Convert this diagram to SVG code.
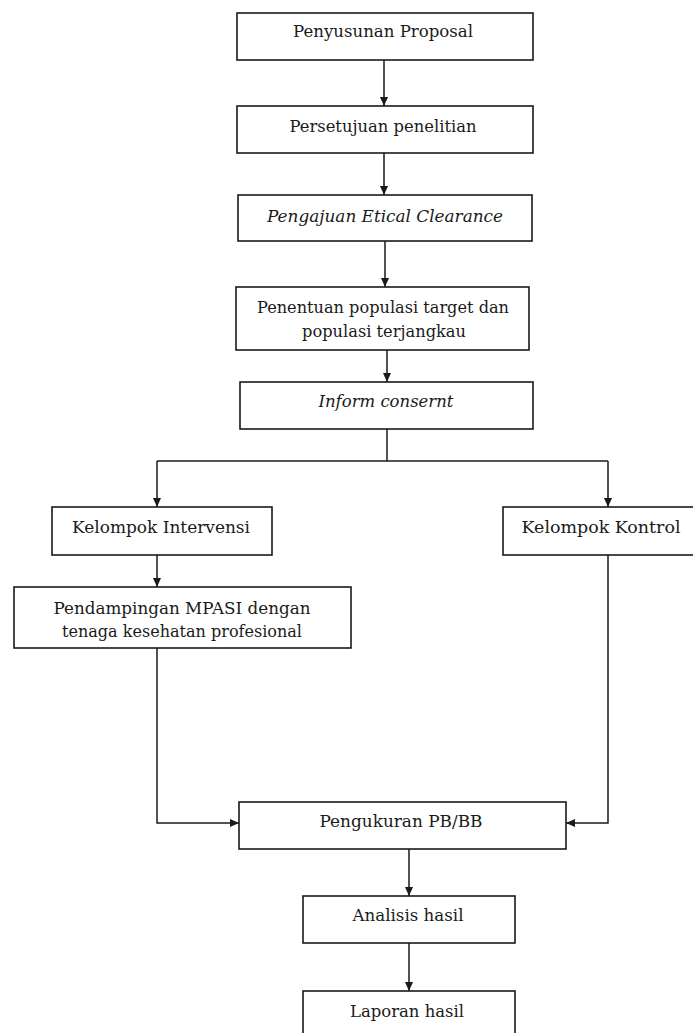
<svg xmlns="http://www.w3.org/2000/svg" width="693" height="1033" viewBox="0 0 693 1033">
<style>
.box{fill:#fff;stroke:#1a1a1a;stroke-width:1.6}
.t{font-family:"DejaVu Serif","Liberation Serif",serif;font-size:16.5px;fill:#1a1a1a;text-anchor:middle}
.i{font-style:italic}
.c{fill:none;stroke:#1a1a1a;stroke-width:1.5}
</style>
<defs>
<marker id="ah" markerUnits="userSpaceOnUse" markerWidth="9" markerHeight="9" refX="9" refY="4.5" orient="auto">
<path d="M0,0.5 L9,4.5 L0,8.5 z" fill="#1a1a1a"/>
</marker>
</defs>
<rect width="693" height="1033" fill="#fff"/>
<g id="connectors">
<line class="c" x1="384" y1="60" x2="384" y2="106" marker-end="url(#ah)"/>
<line class="c" x1="384" y1="153" x2="384" y2="195" marker-end="url(#ah)"/>
<line class="c" x1="385" y1="241" x2="385" y2="287" marker-end="url(#ah)"/>
<line class="c" x1="387" y1="350" x2="387" y2="382" marker-end="url(#ah)"/>
<polyline class="c" points="387,429 387,461"/>
<polyline class="c" points="157,461 608,461"/>
<line class="c" x1="157" y1="461" x2="157" y2="507" marker-end="url(#ah)"/>
<line class="c" x1="608" y1="461" x2="608" y2="507" marker-end="url(#ah)"/>
<line class="c" x1="157" y1="555" x2="157" y2="587" marker-end="url(#ah)"/>
<polyline class="c" points="157,648 157,823 239,823" marker-end="url(#ah)"/>
<polyline class="c" points="608,555 608,823 566,823" marker-end="url(#ah)"/>
<line class="c" x1="409" y1="849" x2="409" y2="896" marker-end="url(#ah)"/>
<line class="c" x1="409" y1="943" x2="409" y2="991" marker-end="url(#ah)"/>
</g>
<g id="n1"><rect class="box" x="237" y="13" width="296" height="47"/><text class="t" x="383" y="37" textLength="180" lengthAdjust="spacingAndGlyphs">Penyusunan Proposal</text></g>
<g id="n2"><rect class="box" x="237" y="106" width="296" height="47"/><text class="t" x="383" y="132" textLength="187" lengthAdjust="spacingAndGlyphs">Persetujuan penelitian</text></g>
<g id="n3"><rect class="box" x="238" y="195" width="294" height="46"/><text class="t i" x="385" y="222" textLength="236" lengthAdjust="spacingAndGlyphs">Pengajuan Etical Clearance</text></g>
<g id="n4"><rect class="box" x="236" y="287" width="293" height="63"/><text class="t" x="383" y="313" textLength="252" lengthAdjust="spacingAndGlyphs">Penentuan populasi target dan</text><text class="t" x="384" y="337" textLength="164" lengthAdjust="spacingAndGlyphs">populasi terjangkau</text></g>
<g id="n5"><rect class="box" x="240" y="382" width="293" height="47"/><text class="t i" x="386" y="407" textLength="135" lengthAdjust="spacingAndGlyphs">Inform consernt</text></g>
<g id="n6"><rect class="box" x="52" y="507" width="220" height="48"/><text class="t" x="161" y="533" textLength="178" lengthAdjust="spacingAndGlyphs">Kelompok Intervensi</text></g>
<g id="n7"><rect class="box" x="503" y="507" width="200" height="48"/><text class="t" x="601" y="533" textLength="159" lengthAdjust="spacingAndGlyphs">Kelompok Kontrol</text></g>
<g id="n8"><rect class="box" x="14" y="587" width="337" height="61"/><text class="t" x="182" y="614" textLength="257" lengthAdjust="spacingAndGlyphs">Pendampingan MPASI dengan</text><text class="t" x="182" y="637" textLength="240" lengthAdjust="spacingAndGlyphs">tenaga kesehatan profesional</text></g>
<g id="n9"><rect class="box" x="239" y="802" width="327" height="47"/><text class="t" x="401" y="827" textLength="163" lengthAdjust="spacingAndGlyphs">Pengukuran PB/BB</text></g>
<g id="n10"><rect class="box" x="303" y="896" width="212" height="47"/><text class="t" x="408" y="921" textLength="111" lengthAdjust="spacingAndGlyphs">Analisis hasil</text></g>
<g id="n11"><rect class="box" x="303" y="991" width="212" height="50"/><text class="t" x="407" y="1017" textLength="114" lengthAdjust="spacingAndGlyphs">Laporan hasil</text></g>
</svg>
